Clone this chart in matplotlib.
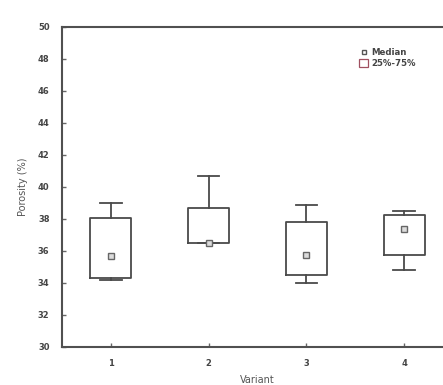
import matplotlib
matplotlib.use("Agg")
import matplotlib.pyplot as plt
from matplotlib.lines import Line2D
from matplotlib.patches import Patch

variants = [1, 2, 3, 4]
medians = [35.7, 36.5, 35.75, 37.35]
q1 = [34.3, 36.5, 34.5, 35.75]
q3 = [38.05, 38.7, 37.8, 38.25]
whisk_lo = [34.2, 36.5, 34.0, 34.8]
whisk_hi = [39.0, 40.7, 38.9, 38.5]
yticks = [30, 32, 34, 36, 38, 40, 42, 44, 46, 48, 50]

W, H = 443, 385
fig = plt.figure(figsize=(W / 100, H / 100), dpi=100)
left, right, top, bottom = 62, 453, 27, 347
ax = fig.add_axes([left / W, 1 - bottom / H, (right - left) / W, (bottom - top) / H])

lc = "#4a4a4a"
stats = []
for i in range(len(variants)):
    stats.append(dict(med=medians[i], q1=q1[i], q3=q3[i],
                      whislo=whisk_lo[i], whishi=whisk_hi[i], fliers=[]))
ax.bxp(stats, positions=variants, widths=0.42, showfliers=False,
       boxprops=dict(color=lc, linewidth=1.3),
       whiskerprops=dict(color=lc, linewidth=1.3),
       capprops=dict(color=lc, linewidth=1.3),
       medianprops=dict(linewidth=0),
       capwidths=0.22)
ax.plot(variants, medians, linestyle="none", marker="s", markersize=4.5,
        markerfacecolor="#dcdcdc", markeredgecolor="#666666", markeredgewidth=1.0)

ax.set_xlim(0.5, 4.5)
ax.set_ylim(30, 50)
ax.set_xticks(variants)
ax.set_xticklabels([str(v) for v in variants])
ax.set_yticks(yticks)
ax.set_yticklabels([str(t) for t in yticks])
ax.tick_params(direction="in", length=3, width=1, colors="#666666",
               labelsize=6, labelcolor="#444444", pad=9)
for lab in ax.get_xticklabels() + ax.get_yticklabels():
    lab.set_fontweight("bold")
for s in ax.spines.values():
    s.set_color("#505050")
    s.set_linewidth(1.5)
ax.set_ylabel("Porosity (%)", fontsize=7, color="#555555", labelpad=7)
ax.set_xlabel("Variant", fontsize=7, color="#555555", labelpad=5)

handles = [Line2D([], [], linestyle="none", marker="s", markersize=3.5,
                  markerfacecolor="white", markeredgecolor="#555555"),
           Patch(facecolor="white", edgecolor="#a05060", linewidth=0.9)]
ax.legend(handles, ["Median", "25%-75%"], loc="upper left",
          bbox_to_anchor=((355 - left) / (right - left), 1 - (44 - top) / (bottom - top)),
          frameon=False, handlelength=1.0, handleheight=1.0,
          handletextpad=0.4, borderpad=0, labelspacing=0.15,
          labelcolor="#444444", prop=dict(weight="bold", size=6.2))

fig.savefig("out.png", dpi=100)
